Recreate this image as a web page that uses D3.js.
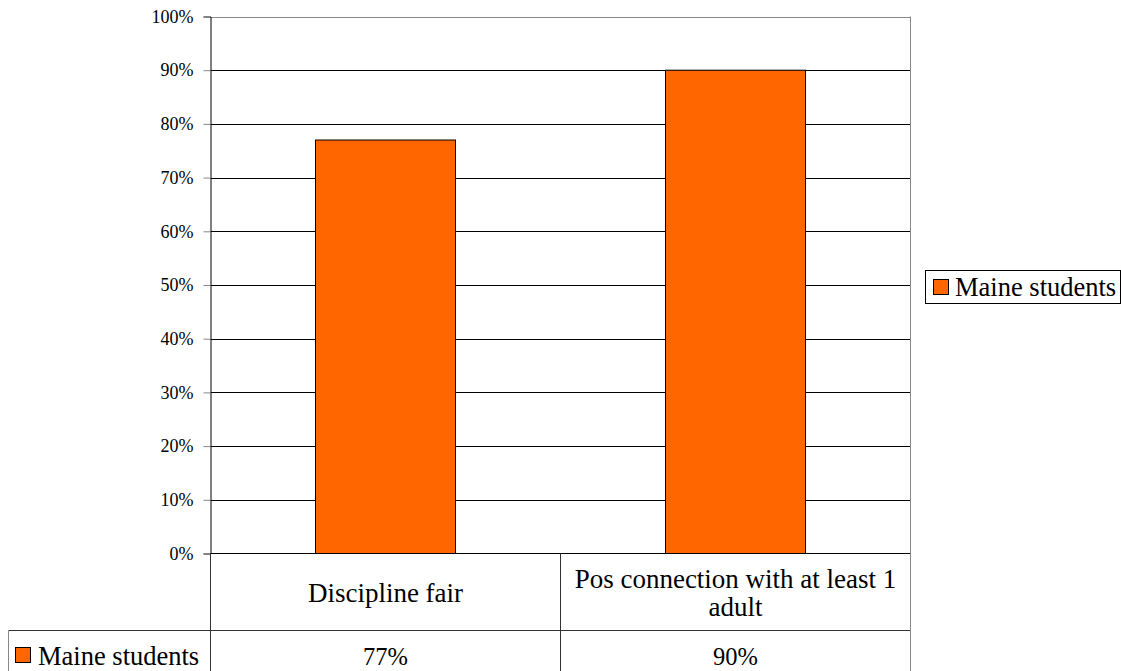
<!DOCTYPE html>
<html>
<head>
<meta charset="utf-8">
<script src="https://cdn.jsdelivr.net/npm/d3@7"></script>
<style>
  html, body { margin: 0; padding: 0; background: #fff; }
  svg { display: block; }
</style>
</head>
<body>
<svg id="chart" width="1121" height="671"></svg>
<script>
// Survey results for Maine students
const categories = ["Discipline fair", "Pos connection with at least 1 adult"];
const categoryLines = [["Discipline fair"], ["Pos connection with at least 1", "adult"]];
const seriesName = "Maine students";
const values = [0.77, 0.90];
const tickValues = [0, 0.1, 0.2, 0.3, 0.4, 0.5, 0.6, 0.7, 0.8, 0.9, 1.0];

const FONT = "Liberation Serif";
const svg = d3.select("#chart");
const plot = { left: 210.5, right: 910.5, top: 16.5, bottom: 553.5 };
const fill = "#FF6600";

const x = d3.scaleBand().domain(categories).range([plot.left, plot.right]).paddingInner(0).paddingOuter(0);
const y = d3.scaleLinear().domain([0, 1]).range([plot.bottom, plot.top]);
const barW = x.bandwidth() * 0.4;

// Gridlines
svg.append("g").selectAll("line").data(tickValues.filter(d => d > 0)).join("line")
  .attr("x1", plot.left).attr("x2", plot.right)
  .attr("y1", d => Math.round(y(d)) + 0.5).attr("y2", d => Math.round(y(d)) + 0.5)
  .attr("stroke", d => d === 1 ? "#888" : "#000").attr("stroke-width", 1);

// Right border of plot area
svg.append("line").attr("x1", plot.right).attr("x2", plot.right)
  .attr("y1", plot.top).attr("y2", plot.bottom).attr("stroke", "#888");

// Bars
svg.append("g").selectAll("rect").data(values).join("rect")
  .attr("x", (d, i) => x(categories[i]) + (x.bandwidth() - barW) / 2)
  .attr("y", d => y(d))
  .attr("width", barW)
  .attr("height", d => plot.bottom - y(d))
  .attr("fill", fill).attr("stroke", "#000").attr("stroke-width", 1);

// Y axis
const yAxis = d3.axisLeft(y).tickValues(tickValues).tickFormat(d3.format(".0%")).tickSize(7).tickPadding(10);
const ya = svg.append("g").attr("transform", `translate(${plot.left},0)`).call(yAxis)
  .attr("font-family", FONT).attr("font-size", 18);
ya.select(".domain").attr("stroke", "#000");
ya.selectAll(".tick line").attr("stroke", "#888");
ya.selectAll(".tick text").attr("font-size", 18).attr("fill", "#000").attr("font-family", FONT);

// Baseline
svg.append("line").attr("x1", plot.left).attr("x2", plot.right)
  .attr("y1", plot.bottom).attr("y2", plot.bottom).attr("stroke", "#000");

// Data table below the plot
const tableLeft = 8.5, rowSplit = 630.5, tableBottom = 671;
const tl = svg.append("g").attr("stroke", "#333").attr("stroke-width", 1);
tl.append("line").attr("x1", tableLeft).attr("x2", plot.right).attr("y1", rowSplit).attr("y2", rowSplit);
tl.append("line").attr("x1", tableLeft).attr("x2", tableLeft).attr("y1", rowSplit).attr("y2", tableBottom).attr("stroke", "#888");
tl.append("line").attr("x1", plot.left).attr("x2", plot.left).attr("y1", plot.bottom).attr("y2", tableBottom);
categories.forEach((c, i) => {
  const xr = x(c) + x.bandwidth();
  tl.append("line").attr("x1", xr).attr("x2", xr).attr("y1", plot.bottom).attr("y2", tableBottom)
    .attr("stroke", i === categories.length - 1 ? "#888" : "#333");
});

// Category labels
categoryLines.forEach((lines, i) => {
  const cx = x(categories[i]) + x.bandwidth() / 2;
  const midY = (plot.bottom + rowSplit) / 2;
  const lh = 28;
  const t = svg.append("text").attr("text-anchor", "middle").attr("font-size", 27)
    .attr("font-family", FONT).attr("fill", "#000");
  lines.forEach((ln, k) => {
    t.append("tspan").attr("x", cx)
      .attr("y", midY + (k - (lines.length - 1) / 2) * lh + 10)
      .text(ln);
  });
});

// Values row
values.forEach((v, i) => {
  svg.append("text").attr("x", x(categories[i]) + x.bandwidth() / 2).attr("y", 665)
    .attr("text-anchor", "middle").attr("font-size", 24.5).attr("font-family", FONT).attr("fill", "#000")
    .text(d3.format(".0%")(v));
});

// Legend key in the table
svg.append("rect").attr("x", 15.5).attr("y", 647.5).attr("width", 15).attr("height", 15)
  .attr("fill", fill).attr("stroke", "#000");
svg.append("text").attr("x", 38).attr("y", 665).attr("font-size", 26.5).attr("font-family", FONT)
  .attr("fill", "#000").text(seriesName);

// Legend box at right
const lg = svg.append("g");
lg.append("rect").attr("x", 925.5).attr("y", 270.5).attr("width", 195).attr("height", 33)
  .attr("fill", "#fff").attr("stroke", "#000");
lg.append("rect").attr("x", 933.5).attr("y", 279.5).attr("width", 15).attr("height", 15)
  .attr("fill", fill).attr("stroke", "#000");
lg.append("text").attr("x", 955).attr("y", 296).attr("font-size", 26.5).attr("font-family", FONT)
  .attr("fill", "#000").text(seriesName);
</script>
</body>
</html>
